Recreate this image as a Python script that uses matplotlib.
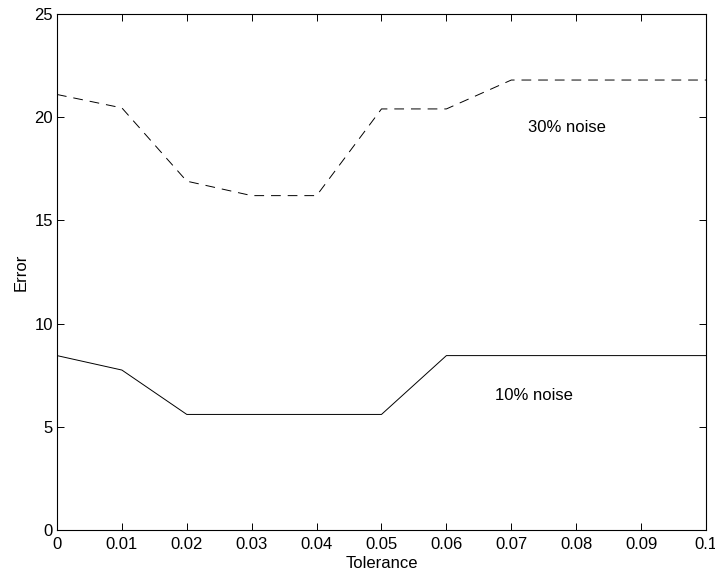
import matplotlib
matplotlib.use("Agg")
import matplotlib.pyplot as plt

tolerance = [0.0, 0.01, 0.02, 0.03, 0.04, 0.05, 0.06, 0.07, 0.08, 0.09, 0.1]
error_30 = [21.1, 20.45, 16.9, 16.2, 16.2, 20.4, 20.4, 21.8, 21.8, 21.8, 21.8]
error_10 = [8.45, 7.75, 5.6, 5.6, 5.6, 5.6, 8.45, 8.45, 8.45, 8.45, 8.45]
xticks = [0, 0.01, 0.02, 0.03, 0.04, 0.05, 0.06, 0.07, 0.08, 0.09, 0.1]
xtick_labels = ["0", "0.01", "0.02", "0.03", "0.04", "0.05", "0.06", "0.07", "0.08", "0.09", "0.1"]
yticks = [0, 5, 10, 15, 20, 25]

plt.rcParams["font.family"] = ["Liberation Sans", "DejaVu Sans"]
plt.rcParams["font.size"] = 12
plt.rcParams["lines.scale_dashes"] = False

fig = plt.figure(figsize=(7.15, 5.73), dpi=100)
ax = fig.add_axes([0.0797, 0.075, 0.9077, 0.9006])

ax.plot(tolerance, error_30, color="black", linewidth=0.7, linestyle=(0, (7, 5)))
ax.plot(tolerance, error_10, color="black", linewidth=0.7)

ax.text(0.0726, 19.5, "30% noise", ha="left", va="center")
ax.text(0.0675, 6.5, "10% noise", ha="left", va="center")

ax.set_xlim(0, 0.1)
ax.set_ylim(0, 25)
ax.set_xticks(xticks)
ax.set_xticklabels(xtick_labels)
ax.set_yticks(yticks)
ax.tick_params(direction="in", top=True, right=True, length=5, width=0.7, pad=3)
ax.tick_params(axis="x", pad=5)
for s in ax.spines.values():
    s.set_linewidth(0.8)

ax.set_xlabel("Tolerance", labelpad=3)
ax.set_ylabel("Error", labelpad=4)

fig.savefig("out.png", dpi=100)
